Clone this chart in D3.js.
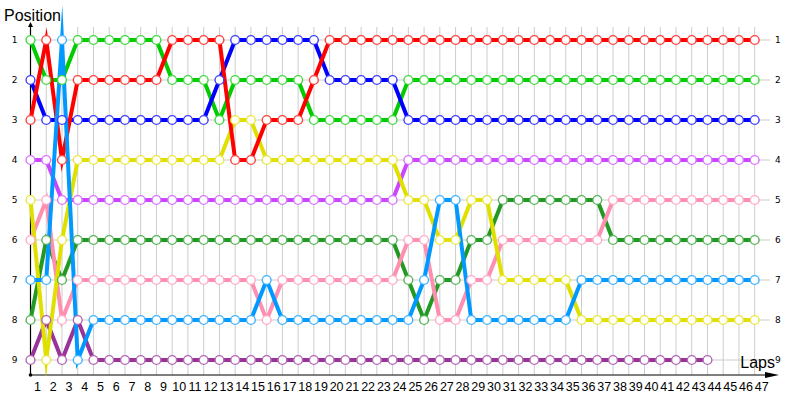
<!DOCTYPE html>
<html>
<head>
<meta charset="utf-8">
<script src="https://cdn.jsdelivr.net/npm/d3@7"></script>
<style>
  body { margin: 0; background: #fff; }
  svg { display: block; }
  text { font-family: "Liberation Sans", Arial, sans-serif; fill: #000; }
</style>
</head>
<body>
<svg id="chart" width="800" height="400"></svg>
<script>
// lap numbers (x categories) and finishing positions (y categories)
const laps = [1, 2, 3, 4, 5, 6, 7, 8, 9, 10, 11, 12, 13, 14, 15, 16, 17, 18, 19, 20, 21, 22, 23, 24,
    25, 26, 27, 28, 29, 30, 31, 32, 33, 34, 35, 36, 37, 38, 39, 40, 41, 42, 43, 44, 45, 46, 47];
const positions = [1, 2, 3, 4, 5, 6, 7, 8, 9];

// position of each car per lap, lap 1 first
const redCar = [3, 1, 4, 2, 2, 2, 2, 2, 2, 1, 1, 1, 1, 4, 4, 3, 3, 3, 2, 1, 1, 1, 1, 1,
    1, 1, 1, 1, 1, 1, 1, 1, 1, 1, 1, 1, 1, 1, 1, 1, 1, 1, 1, 1, 1, 1, 1];
const greenCar = [1, 2, 2, 1, 1, 1, 1, 1, 1, 2, 2, 2, 3, 2, 2, 2, 2, 2, 3, 3, 3, 3, 3, 3,
    2, 2, 2, 2, 2, 2, 2, 2, 2, 2, 2, 2, 2, 2, 2, 2, 2, 2, 2, 2, 2, 2, 2];
const blueCar = [2, 3, 3, 3, 3, 3, 3, 3, 3, 3, 3, 3, 2, 1, 1, 1, 1, 1, 1, 2, 2, 2, 2, 2,
    3, 3, 3, 3, 3, 3, 3, 3, 3, 3, 3, 3, 3, 3, 3, 3, 3, 3, 3, 3, 3, 3, 3];
const yellowCar = [5, 9, 6, 4, 4, 4, 4, 4, 4, 4, 4, 4, 4, 3, 3, 4, 4, 4, 4, 4, 4, 4, 4, 4,
    5, 5, 6, 6, 5, 5, 7, 7, 7, 7, 7, 8, 8, 8, 8, 8, 8, 8, 8, 8, 8, 8, 8];
const violetCar = [4, 4, 5, 5, 5, 5, 5, 5, 5, 5, 5, 5, 5, 5, 5, 5, 5, 5, 5, 5, 5, 5, 5, 5,
    4, 4, 4, 4, 4, 4, 4, 4, 4, 4, 4, 4, 4, 4, 4, 4, 4, 4, 4, 4, 4, 4, 4];
const pinkCar = [6, 5, 8, 7, 7, 7, 7, 7, 7, 7, 7, 7, 7, 7, 7, 8, 7, 7, 7, 7, 7, 7, 7, 7,
    6, 6, 8, 8, 7, 7, 6, 6, 6, 6, 6, 6, 6, 5, 5, 5, 5, 5, 5, 5, 5, 5, 5];
const darkGreenCar = [8, 6, 7, 6, 6, 6, 6, 6, 6, 6, 6, 6, 6, 6, 6, 6, 6, 6, 6, 6, 6, 6, 6, 6,
    7, 8, 7, 7, 6, 6, 5, 5, 5, 5, 5, 5, 5, 6, 6, 6, 6, 6, 6, 6, 6, 6, 6];
const lightBlueCar = [7, 7, 1, 9, 8, 8, 8, 8, 8, 8, 8, 8, 8, 8, 8, 7, 8, 8, 8, 8, 8, 8, 8, 8,
    8, 7, 5, 5, 8, 8, 8, 8, 8, 8, 8, 7, 7, 7, 7, 7, 7, 7, 7, 7, 7, 7, 7];
const purpleCar = [9, 8, 9, 8, 9, 9, 9, 9, 9, 9, 9, 9, 9, 9, 9, 9, 9, 9, 9, 9, 9, 9, 9, 9,
    9, 9, 9, 9, 9, 9, 9, 9, 9, 9, 9, 9, 9, 9, 9, 9, 9, 9, 9, 9];

const cars = [
    { color: '#993399', laps: purpleCar },
    { color: '#229922', laps: darkGreenCar },
    { color: '#ff8fb1', laps: pinkCar },
    { color: '#cc44ff', laps: violetCar },
    { color: '#e0e000', laps: yellowCar },
    { color: '#00cc00', laps: greenCar },
    { color: '#0000ff', laps: blueCar },
    { color: '#ff0000', laps: redCar },
    { color: '#0099ff', laps: lightBlueCar }
];

const svg = d3.select('#chart');
const x = d3.scaleLinear().domain([1, 47]).range([30.5, 754.7]);
const y = d3.scaleLinear().domain([1, 9]).range([40, 360]);
const axisY = 375;

// grid
svg.append('g').selectAll('line').data(laps).join('line')
    .attr('x1', d => x(d)).attr('x2', d => x(d))
    .attr('y1', 27).attr('y2', axisY)
    .attr('stroke', '#cccccc').attr('stroke-width', 1);
svg.append('g').selectAll('line').data(positions).join('line')
    .attr('x1', x(1)).attr('x2', 770)
    .attr('y1', d => y(d)).attr('y2', d => y(d))
    .attr('stroke', '#cccccc').attr('stroke-width', 1);

// axes lines with arrow heads
svg.append('line')
    .attr('x1', x(1)).attr('x2', x(1)).attr('y1', 26).attr('y2', axisY)
    .attr('stroke', '#000').attr('stroke-width', 1.2);
svg.append('line')
    .attr('x1', x(1)).attr('x2', 772).attr('y1', axisY).attr('y2', axisY)
    .attr('stroke', '#000').attr('stroke-width', 1.2);
svg.append('path')
    .attr('d', `M${x(1) - 2.5},27 L${x(1) + 2.5},27 L${x(1)},22 Z`)
    .attr('fill', '#000');
svg.append('circle').attr('cx', x(1)).attr('cy', axisY).attr('r', 1.8).attr('fill', '#000');
svg.append('path')
    .attr('d', `M765,${axisY - 3} L779,${axisY} L765,${axisY + 3} Z`)
    .attr('fill', '#000');

// tick labels
const xAxis = svg.append('g')
    .attr('transform', `translate(0,${axisY})`)
    .call(d3.axisBottom(x).tickValues(laps).tickSize(0).tickPadding(7).tickFormat(d3.format('d')));
xAxis.select('.domain').remove();
xAxis.selectAll('text')
    .attr('dx', 6.5)
    .style('font-family', '"Liberation Sans", Arial, sans-serif')
    .style('font-size', '12.5px');

const yLeft = svg.append('g')
    .attr('transform', `translate(${x(1)},0)`)
    .call(d3.axisLeft(y).tickValues(positions).tickSize(0).tickPadding(13).tickFormat(d3.format('d')));
yLeft.select('.domain').remove();
yLeft.selectAll('text')
    .style('font-family', '"DejaVu Sans", sans-serif')
    .style('font-size', '9px');

const yRight = svg.append('g')
    .attr('transform', 'translate(770,0)')
    .call(d3.axisRight(y).tickValues(positions).tickSize(0).tickPadding(5).tickFormat(d3.format('d')));
yRight.select('.domain').remove();
yRight.selectAll('text')
    .style('font-family', '"DejaVu Sans", sans-serif')
    .style('font-size', '9px');

// titles
svg.append('text')
    .attr('x', 4).attr('y', 21)
    .style('font-size', '16px')
    .text('Position');
svg.append('text')
    .attr('x', 775).attr('y', 368)
    .attr('text-anchor', 'end')
    .style('font-size', '16px')
    .text('Laps');

// car lines
const line = d3.line()
    .x((d, i) => x(laps[i]))
    .y(d => y(d));

svg.append('g').selectAll('path').data(cars).join('path')
    .attr('d', d => line(d.laps))
    .attr('fill', 'none')
    .attr('stroke', d => d.color)
    .attr('stroke-width', 4)
    .attr('stroke-linejoin', 'miter')
    .attr('stroke-miterlimit', 20);

// lap markers
cars.forEach(car => {
    const ring = d3.interpolateRgb(car.color, '#ffffff')(0.25);
    svg.append('g').selectAll('circle').data(car.laps).join('circle')
        .attr('cx', (d, i) => x(laps[i]))
        .attr('cy', d => y(d))
        .attr('r', 4.4)
        .attr('fill', '#fff')
        .attr('stroke', ring)
        .attr('stroke-width', 1.4);
});
</script>
</body>
</html>
